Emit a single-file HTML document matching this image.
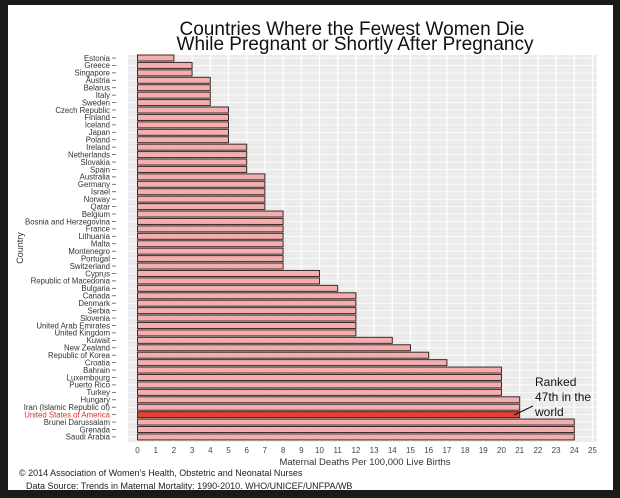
<!DOCTYPE html>
<html><head><meta charset="utf-8"><style>
body{margin:0;background:#1a1a1a;width:620px;height:498px;overflow:hidden}
svg{display:block;font-family:"Liberation Sans",Arial,sans-serif}
</style></head><body>
<svg id="c" width="620" height="498">
<rect x="8" y="5" width="605" height="485" fill="#ffffff"/>
<text x="352" y="35" font-size="19" text-anchor="middle" fill="#111">Countries Where the Fewest Women Die</text>
<text x="355" y="50" font-size="19" text-anchor="middle" fill="#111">While Pregnant or Shortly After Pregnancy</text>
<rect x="128" y="55" width="469" height="387" fill="#ebebeb"/>
<g id="grid"></g><g id="bars"></g><g id="ylab"></g><g id="xlab"></g>
<text x="365" y="465" font-size="9.5" text-anchor="middle" fill="#333">Maternal Deaths Per 100,000 Live Births</text>
<text transform="translate(23,248) rotate(-90)" font-size="9" text-anchor="middle" fill="#333">Country</text>
<text x="19" y="476" font-size="9" fill="#222">© 2014 Association of Women's Health, Obstetric and Neonatal Nurses</text>
<text x="26" y="489" font-size="9" fill="#222">Data Source: Trends in Maternal Mortality: 1990-2010. WHO/UNICEF/UNFPA/WB</text>
<text x="535" y="386" font-size="12" fill="#111">Ranked</text>
<text x="535" y="401" font-size="12" fill="#111">47th in the</text>
<text x="535" y="416" font-size="12" fill="#111">world</text>
<line x1="533" y1="406" x2="514" y2="415" stroke="#111" stroke-width="1"/>
</svg>
<script>
const countries=["Estonia","Greece","Singapore","Austria","Belarus","Italy","Sweden","Czech Republic","Finland","Iceland","Japan","Poland","Ireland","Netherlands","Slovakia","Spain","Australia","Germany","Israel","Norway","Qatar","Belgium","Bosnia and Herzegovina","France","Lithuania","Malta","Montenegro","Portugal","Switzerland","Cyprus","Republic of Macedonia","Bulgaria","Canada","Denmark","Serbia","Slovenia","United Arab Emirates","United Kingdom","Kuwait","New Zealand","Republic of Korea","Croatia","Bahrain","Luxembourg","Puerto Rico","Turkey","Hungary","Iran (Islamic Republic of)","United States of America","Brunei Darussalam","Grenada","Saudi Arabia"];
const deaths=[2,3,3,4,4,4,4,5,5,5,5,5,6,6,6,6,7,7,7,7,7,8,8,8,8,8,8,8,8,10,10,11,12,12,12,12,12,12,14,15,16,17,20,20,20,20,21,21,21,24,24,24];
const xTicks=[0,1,2,3,4,5,6,7,8,9,10,11,12,13,14,15,16,17,18,19,20,21,22,23,24,25];
const highlight="United States of America";
const NS="http://www.w3.org/2000/svg";
const x=v=>137.5+v*18.2;
const y=i=>58+i*7.43;
function mk(t,a,p){const e=document.createElementNS(NS,t);for(const k in a)e.setAttribute(k,a[k]);document.getElementById(p).appendChild(e);return e;}
xTicks.forEach(t=>{
  const g=mk('line',{x1:x(t),x2:x(t),y1:55,y2:442,stroke:'#fff','stroke-width':1.2},'grid');
  
  
  const l=mk('text',{x:x(t),y:453,'font-size':8,'text-anchor':'middle',fill:'#444'},'xlab');
  l.textContent=t;
  
  
});
countries.forEach((c,i)=>{
  const gl=mk('line',{x1:128,x2:597,y1:y(i),y2:y(i),stroke:'#fff','stroke-width':0.8},'grid');
  
  
  const hi=c===highlight;
  const b=mk('rect',{x:x(0),y:y(i)-3,width:x(deaths[i])-x(0),height:6,fill:hi?'#e8402e':'#f4aeae',stroke:'#3a2a2a','stroke-width':1},'bars');
  
  
  const t=mk('text',{x:110,y:y(i)+2.8,'font-size':7.8,'text-anchor':'end',fill:hi?'#e0302a':'#333'},'ylab');
  t.textContent=c;
  
  
  const tk=mk('line',{x1:112,x2:116,y1:y(i),y2:y(i),stroke:'#555','stroke-width':0.8},'ylab');
  
  
});
</script>
</body></html>
